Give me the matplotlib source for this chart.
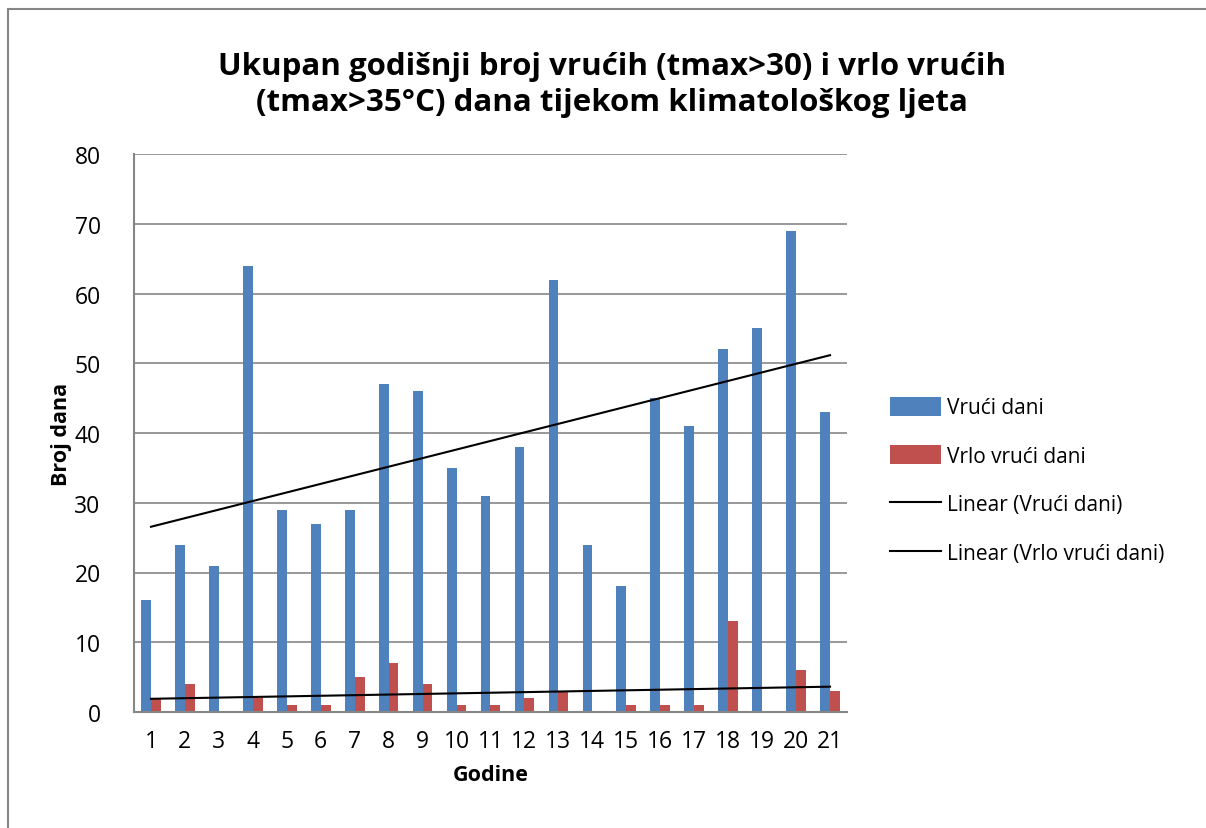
import matplotlib.pyplot as plt
from matplotlib.patches import Rectangle
import numpy as np

plt.rcParams['font.family'] = ['Open Sans', 'DejaVu Sans']

godine = np.arange(1, 22)
vruci = [16, 24, 21, 64, 29, 27, 29, 47, 46, 35, 31, 38, 62, 24, 18, 45, 41, 52, 55, 69, 43]
vrlo_vruci = [2, 4, 0, 2, 1, 1, 5, 7, 4, 1, 1, 2, 3, 0, 1, 1, 1, 13, 0, 6, 3]

W, H = 1206, 829
fig = plt.figure(figsize=(W / 100, H / 100), dpi=100)

# outer chart frame (runs off right and bottom edges)
fig.patches.append(Rectangle((8 / W, -0.1), 1.2, 1 - 10 / H + 0.1,
                             transform=fig.transFigure, fill=False,
                             edgecolor='#868686', linewidth=1.5))

ax = fig.add_axes([134 / W, 1 - 713 / H, (847 - 134) / W, (713 - 155) / H])

bw = 0.29
b1 = ax.bar(godine - bw / 2, vruci, width=bw, color='#4F81BD', label='Vrući dani', zorder=2)
b2 = ax.bar(godine + bw / 2, vrlo_vruci, width=bw, color='#C0504D', label='Vrlo vrući dani', zorder=2)

# linear trend lines, fitted from the data
p1 = np.polyfit(godine, vruci, 1)
p2 = np.polyfit(godine, vrlo_vruci, 1)
l1, = ax.plot(godine, np.polyval(p1, godine), color='black', lw=1.5, label='Linear (Vrući dani)', zorder=3)
l2, = ax.plot(godine, np.polyval(p2, godine), color='black', lw=1.5, label='Linear (Vrlo vrući dani)', zorder=3)

ax.set_xlim(0.5, 21.5)
ax.set_ylim(0, 80)
ax.set_yticks(range(0, 81, 10))
ax.set_xticks(godine)
ax.grid(axis='y', color='#868686', linewidth=1.2, zorder=0)
ax.tick_params(length=0, labelsize=16.5, pad=12)
ax.tick_params(axis='y', pad=24)
for s in ['top', 'right']:
    ax.spines[s].set_visible(False)
for s in ['left', 'bottom']:
    ax.spines[s].set_color('#868686')
    ax.spines[s].set_linewidth(1.5)

ax.set_xlabel('Godine', fontsize=15.5, fontweight='bold', labelpad=8)
ax.set_ylabel('Broj dana', fontsize=15.5, fontweight='bold', labelpad=2)

fig.text(0.5 * (222 + 1002) / W, 1 - 85 / H,
         'Ukupan godišnji broj vrućih (tmax>30) i vrlo vrućih\n(tmax>35°C) dana tijekom klimatološkog ljeta',
         ha='center', va='center', fontsize=22.5, fontweight='bold', linespacing=1.3)

ax.legend([b1, b2, l1, l2], [h.get_label() for h in (b1, b2, l1, l2)],
          loc='center left', bbox_to_anchor=(0.0485 + 1, 0.415), frameon=False,
          fontsize=15, handlelength=2.45, handleheight=1.0, labelspacing=1.3,
          handletextpad=0.3, borderaxespad=0)

fig.savefig('out.png', dpi=100)
